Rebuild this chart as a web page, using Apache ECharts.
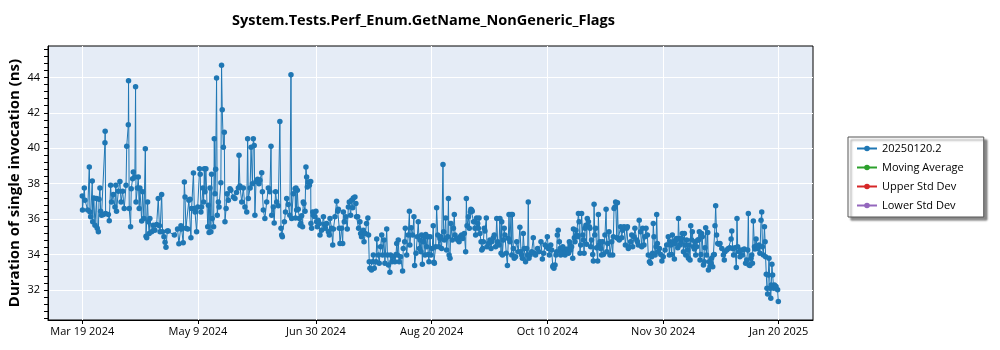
<!DOCTYPE html>
<html>
<head>
<meta charset="utf-8">
<script src="https://cdn.jsdelivr.net/npm/echarts@6/dist/echarts.min.js"></script>
<style>
html,body{margin:0;padding:0;background:#fff;}
#chart{width:1000px;height:350px;}
</style>
</head>
<body>
<div id="chart"></div>
<script>
// Days since 2024-03-19 00:00 UTC for each benchmark run
const runDay = [
0.0,0.1,0.9,1.2,2.4,3.1,3.4,3.7,4.4,4.6,
5.1,5.6,6.3,6.6,7.1,7.4,7.8,8.1,8.5,9.3,
10.0,10.1,10.3,11.5,11.9,12.5,12.9,13.7,14.4,14.8,
15.1,15.9,16.6,17.1,17.8,18.5,19.3,19.6,20.3,20.4,
20.7,21.3,21.6,22.2,22.5,23.2,23.5,23.7,24.3,24.7,
25.1,25.4,26.2,26.6,27.2,27.8,28.1,28.4,28.8,29.1,
29.5,29.8,30.6,31.3,32.0,32.8,33.5,34.0,34.3,35.0,
35.4,36.0,36.5,36.9,37.5,
37.9,40.6,42.0,42.6,43.5,43.8,44.5,45.0,45.3,45.7,
46.5,47.0,47.5,47.9,48.2,49.0,49.4,49.7,50.4,50.9,
51.7,52.0,52.3,52.6,53.2,53.5,53.8,54.1,54.5,55.3,
55.6,55.9,56.3,56.7,57.0,57.3,57.9,58.2,58.5,58.8,
59.2,59.5,60.0,60.3,61.1,61.4,61.7,62.2,62.6,62.9,
63.4,63.8,64.4,65.1,65.5,66.6,67.3,68.0,68.8,69.1,
69.5,70.3,71.0,71.7,72.5,72.9,73.2,74.0,74.4,75.0,
75.4,75.8,76.1,76.6,77.3,77.9,78.3,79.1,79.4,79.8,
80.5,81.3,82.0,82.7,83.2,83.5,84.2,84.6,85.2,85.7,
86.4,87.1,87.6,87.9,88.2,89.1,89.6,90.1,90.8,91.5,
92.0,92.3,93.0,93.8,
94.0,94.2,94.5,94.8,95.2,95.7,96.0,96.3,96.7,97.1,
97.4,97.7,98.2,98.6,98.9,99.2,99.6,100.1,100.7,100.8,
101.1,101.6,101.8,102.6,103.0,103.3,103.6,104.0,104.5,104.8,
105.5,106.3,106.7,107.0,107.7,108.5,108.9,109.2,109.9,110.4,
110.7,111.4,112.1,112.6,112.9,113.3,113.6,114.3,114.8,115.1,
115.5,116.2,116.8,117.3,117.7,118.3,118.7,119.2,119.5,120.2,
120.6,120.9,121.4,121.8,122.4,122.7,123.1,123.9,124.2,124.8,
125.3,125.9,126.2,126.5,126.8,127.5,128.0,128.3,128.7,129.5,
129.8,130.5,130.9,131.5,132.0,132.4,133.0,133.4,134.2,134.5,
135.0,135.6,135.9,136.5,137.1,137.8,138.3,138.6,138.9,139.3,
139.7,140.3,141.2,141.5,142.1,142.4,143.0,143.7,144.2,144.4,
145.0,145.6,146.2,146.5,147.1,147.7,148.1,148.6,
148.9,149.3,149.6,149.9,150.3,150.8,151.1,151.4,151.8,152.3,
152.5,152.8,153.3,153.7,154.3,154.7,155.0,155.2,155.8,156.2,
156.7,157.2,157.7,158.1,158.4,159.0,159.3,159.6,160.2,160.6,
161.1,161.4,161.7,162.1,162.5,163.1,163.6,164.0,164.3,165.0,
165.5,166.1,166.5,167.2,167.7,168.4,169.0,169.3,169.6,170.2,
170.6,171.1,171.3,171.6,171.9,172.5,173.1,173.4,173.8,174.3,
174.6,174.9,175.3,175.8,176.1,176.5,176.8,177.2,177.5,178.1,
178.4,179.0,179.7,180.2,180.5,181.2,181.6,182.2,182.7,183.1,
183.7,184.1,184.6,184.9,185.2,185.6,186.0,186.3,186.9,187.4,
187.8,188.1,188.5,189.0,189.3,189.6,190.0,190.4,191.0,191.5,
192.2,192.9,193.4,193.7,194.0,194.4,194.8,195.4,195.9,196.3,
196.6,196.9,197.4,198.1,198.8,199.3,199.8,200.7,201.3,202.2,
202.8,203.4,204.0,
204.7,205.0,205.4,205.9,206.5,206.9,207.4,207.6,207.9,208.4,
208.8,209.1,209.4,209.8,210.3,210.6,210.9,211.3,211.8,212.1,
212.8,213.2,213.8,214.3,214.7,215.0,215.3,215.7,216.2,216.5,
216.9,217.2,217.6,217.9,218.4,218.7,219.0,219.4,219.7,220.1,
220.6,220.9,221.2,221.6,222.0,222.3,222.6,223.1,223.5,223.8,
224.1,224.5,225.0,225.3,225.6,225.9,226.3,226.7,227.2,227.5,
227.9,228.2,228.5,228.9,229.4,229.7,230.4,230.9,231.2,231.6,
232.2,232.6,233.4,233.8,234.1,234.4,234.8,235.1,235.6,235.9,
236.3,236.7,237.3,237.8,238.2,238.8,239.4,240.0,240.3,240.7,
241.1,241.7,242.2,242.6,243.2,243.6,244.4,244.7,245.1,245.5,
246.1,246.6,247.0,247.6,248.0,248.5,249.1,249.5,250.0,250.5,
251.0,251.4,251.7,252.0,252.5,252.9,253.2,253.5,253.9,254.4,
255.0,255.5,256.1,256.9,257.6,258.3,258.8,259.1,
259.5,259.8,260.1,260.6,261.0,261.3,261.6,262.0,262.5,262.8,
263.1,263.5,263.9,264.2,264.5,265.0,265.4,265.7,266.0,266.4,
266.9,267.2,267.5,267.9,268.2,268.6,268.9,269.4,269.8,270.1,
270.4,270.8,271.3,271.6,272.0,272.3,272.7,273.0,273.3,273.8,
274.2,274.5,274.8,275.2,275.7,276.0,276.4,276.7,277.2,277.4,
277.9,278.2,278.6,278.9,279.2,279.6,280.1,280.7,281.1,281.9,
282.6,283.0,283.3,284.1,284.8,285.5,286.0,286.3,286.7,287.1,
287.7,288.3,288.6,288.9,289.5,289.9,290.4,291.0,291.8,292.4,
292.9,293.3,293.6,293.9,294.3,294.8,295.1,295.4,295.8,296.3,
296.5,297.0,297.4,297.7,298.3,298.7,299.2,299.5,299.8,300.2,
300.7,301.0,301.2,301.5,301.8,302.1,302.4,302.7,303.2,303.5,
303.7,304.0,304.3,304.8,305.1,305.8,306.5,306.8
];

// Duration of single invocation (ns), series "20250120.2"
const duration = [
37.31,36.51,37.76,37.07,36.51,38.94,36.41,36.13,38.15,35.85,
37.20,35.66,37.16,35.48,35.29,37.12,37.76,36.45,36.22,36.26,
40.31,40.96,36.32,36.26,35.91,37.91,36.97,37.39,36.69,37.91,
36.45,37.57,38.13,36.97,37.57,36.60,37.91,40.12,41.32,43.81,
36.60,35.57,37.72,38.28,38.66,38.38,43.47,36.97,37.76,38.38,
36.60,37.76,35.89,37.54,36.04,39.97,35.04,34.95,36.97,35.85,
35.19,36.04,35.29,35.66,35.38,35.70,37.16,35.63,35.29,37.39,
35.29,35.01,34.69,34.41,35.33,
35.33,35.10,35.44,34.61,35.63,35.44,34.67,38.10,37.25,35.48,
35.44,37.07,37.12,34.95,36.60,38.60,36.60,36.41,35.29,36.69,
38.85,38.53,36.41,36.69,37.76,36.97,38.85,37.54,38.85,35.57,
36.79,35.25,37.76,35.29,38.53,36.04,35.57,40.53,37.44,38.81,
43.96,36.22,36.97,36.69,38.06,44.69,42.18,40.06,40.91,35.85,
36.60,37.44,37.07,37.72,37.63,37.25,37.16,37.50,37.76,39.60,
37.87,36.97,37.76,36.69,36.41,40.53,37.16,37.76,40.06,38.00,
40.53,40.16,36.22,38.13,38.25,38.00,38.19,38.62,37.54,36.51,
36.04,36.97,37.76,37.54,40.12,36.22,36.69,35.79,37.54,36.97,
36.75,41.51,35.48,35.10,35.01,35.85,36.41,37.16,36.82,36.22,
44.15,36.04,37.44,37.72,
36.07,37.76,36.51,37.63,36.56,36.04,35.66,35.76,36.19,35.57,
36.97,36.88,36.45,38.94,38.38,37.82,38.10,37.91,38.13,35.76,
35.48,36.41,36.22,36.13,36.45,35.85,35.57,35.94,35.76,35.10,
35.38,36.13,35.70,35.48,35.76,35.29,35.10,36.04,35.48,34.54,
35.44,36.13,37.01,36.45,36.56,35.48,34.63,35.48,34.63,36.41,
35.85,36.13,35.44,36.69,36.97,36.22,37.07,36.64,37.20,37.25,
36.88,36.13,36.13,35.48,35.85,35.19,35.01,35.38,34.73,35.19,
35.76,36.07,35.10,33.60,33.23,33.13,33.60,33.98,33.23,33.60,
34.88,33.98,33.51,34.45,35.10,33.98,34.82,33.51,35.44,33.98,
33.42,33.00,33.98,33.60,33.88,33.60,34.01,34.63,33.98,34.82,
33.60,33.88,33.08,34.35,34.73,35.48,33.98,35.10,36.45,34.54,
35.51,35.10,36.13,33.38,34.07,35.01,35.85,34.35,
34.82,34.16,35.10,33.45,34.73,35.01,33.98,35.14,34.45,35.01,
34.01,33.60,35.01,33.98,34.35,35.63,33.57,33.51,34.45,36.64,
35.10,34.45,34.91,35.01,34.35,39.09,35.29,34.82,36.07,34.26,
35.01,37.16,33.98,33.79,35.76,34.82,35.48,36.26,35.10,34.91,
34.82,34.73,35.01,35.10,34.91,35.19,34.16,37.16,35.63,36.13,
35.48,36.41,36.56,36.51,36.45,35.85,35.48,35.10,36.07,35.76,
35.48,36.07,35.19,34.73,34.26,34.35,34.73,35.48,35.33,36.07,
34.45,34.63,34.82,34.35,34.73,34.95,35.10,34.45,36.04,34.73,
34.54,36.04,34.07,35.85,33.98,34.82,35.48,35.10,34.07,33.38,
34.91,36.26,34.73,36.26,33.98,36.26,34.35,33.79,33.88,34.73,
34.16,35.55,34.16,33.98,33.79,35.19,34.35,33.60,34.35,33.98,
36.97,33.79,33.98,34.16,34.95,34.07,33.98,34.35,34.16,34.73,
33.75,34.07,34.54,
34.45,35.01,34.35,33.98,34.54,34.26,33.32,33.38,33.23,33.42,
33.98,34.16,35.10,35.38,34.73,34.35,33.98,34.16,34.45,34.35,
33.98,34.16,34.31,34.07,34.73,34.54,34.26,34.45,33.79,35.44,
34.95,34.73,35.38,35.10,35.01,36.32,35.85,34.07,34.54,36.32,
35.10,34.82,34.07,35.48,35.66,34.58,36.04,35.85,35.57,35.48,
34.45,34.82,34.01,33.64,36.84,35.10,35.48,34.39,33.64,36.26,
34.54,34.73,34.35,33.98,34.73,34.01,35.10,36.56,34.16,34.63,
35.29,33.98,34.73,33.98,35.01,36.60,36.69,36.97,34.95,36.92,
34.91,34.82,35.57,34.95,35.38,35.57,34.54,35.48,35.57,34.35,
34.45,34.73,35.10,34.45,35.01,35.48,34.82,34.73,34.54,35.94,
35.29,34.45,35.48,34.54,35.01,35.48,35.10,33.98,33.60,33.51,
33.88,34.07,35.76,35.01,33.98,34.45,36.26,34.63,34.16,34.35,
34.01,33.64,33.88,34.26,34.54,35.01,33.98,34.73,
34.54,34.01,35.10,34.73,33.75,34.63,34.82,34.91,34.39,36.04,
34.91,34.54,34.73,34.91,35.19,34.16,35.19,34.54,33.98,34.82,
34.26,33.79,34.54,33.70,35.63,34.82,35.29,34.45,34.31,34.73,
33.98,34.45,34.82,34.82,35.29,33.70,34.01,35.19,35.01,33.42,
33.60,34.39,35.51,33.98,35.25,33.13,33.60,33.32,33.51,33.79,
33.32,33.98,34.01,35.63,36.75,35.10,34.63,34.58,34.63,34.35,
33.98,33.70,34.16,34.26,34.35,34.39,34.88,35.33,34.35,33.98,
34.39,33.27,36.04,34.45,34.16,33.88,34.26,33.98,34.31,33.51,
33.70,34.26,36.32,33.42,33.38,33.79,33.98,33.51,35.89,34.45,
34.31,34.88,34.45,34.35,34.54,34.07,35.94,36.41,34.45,33.98,
35.57,34.73,33.88,32.89,32.10,31.77,32.85,33.79,32.10,31.54,
32.29,33.45,32.85,32.10,32.29,32.20,32.01,31.36
];

const seriesNames = ['20250120.2', 'Moving Average', 'Upper Std Dev', 'Lower Std Dev'];
const seriesColors = ['#1f77b4', '#2ca02c', '#d62728', '#9467bd'];
const xTickDates = ['2024-03-19', '2024-05-09', '2024-06-30', '2024-08-20', '2024-10-10', '2024-11-30', '2025-01-20'];
const yTickLabels = [32, 34, 36, 38, 40, 42, 44];
const titleText = 'System.Tests.Perf_Enum.GetName_NonGeneric_Flags';
const yAxisTitle = 'Duration of single invocation (ns)';

const DAY = 86400000;
const firstRun = Date.UTC(2024, 2, 19);
const parseDate = s => { const p = s.split('-').map(Number); return Date.UTC(p[0], p[1] - 1, p[2]); };
const xTicks = xTickDates.map(parseDate);
const MONTHS = ['Jan','Feb','Mar','Apr','May','Jun','Jul','Aug','Sep','Oct','Nov','Dec'];
const fmtDate = v => { const d = new Date(v); return MONTHS[d.getUTCMonth()] + ' ' + d.getUTCDate() + ' ' + d.getUTCFullYear(); };

const points = runDay.map((d, i) => [firstRun + d * DAY, duration[i]]);

const yMin = 30.31, yMax = 45.77;
const minorTicks = [];
for (let v = 30.4; v <= 45.6 + 1e-9; v += 0.4) minorTicks.push(Math.round(v * 10) / 10);

const FONT = '"Open Sans", "Noto Sans", sans-serif';

const chart = echarts.init(document.getElementById('chart'), null, { renderer: 'canvas' });
chart.setOption({
  animation: false,
  backgroundColor: '#ffffff',
  title: {
    text: titleText,
    left: 227, top: 8,
    textStyle: { fontFamily: FONT, fontSize: 14.5, fontWeight: 'bold', color: '#000' }
  },
  grid: {
    left: 48, right: 187, top: 46, bottom: 30,
    show: true, backgroundColor: '#E5ECF6', borderColor: '#000', borderWidth: 1,
    containLabel: false,
    outerBoundsMode: 'none'
  },
  legend: {
    orient: 'vertical',
    left: 848, top: 137,
    data: seriesNames,
    itemWidth: 20, itemHeight: 7, itemGap: 8,
    padding: [6, 20, 6, 8],
    backgroundColor: '#fff', borderColor: '#555', borderWidth: 1,
    shadowColor: 'rgba(0,0,0,0.45)', shadowBlur: 2, shadowOffsetX: 3, shadowOffsetY: 3,
    textStyle: { fontFamily: FONT, fontSize: 11, color: '#000' }
  },
  xAxis: {
    type: 'value',
    min: firstRun - 15.1 * DAY,
    max: parseDate('2025-01-20') + 15.1 * DAY,
    axisLine: { show: true, lineStyle: { color: '#000', width: 1 } },
    axisTick: { show: true, customValues: xTicks, length: 4, inside: false, lineStyle: { color: '#000' } },
    axisLabel: { customValues: xTicks, formatter: v => fmtDate(v), fontFamily: FONT, fontSize: 11, color: '#000', margin: 6 },
    splitLine: { show: true, lineStyle: { color: '#fff', width: 1 } }
  },
  yAxis: [{
    type: 'value',
    min: yMin, max: yMax,
    name: yAxisTitle, nameLocation: 'middle', nameGap: 26, nameMoveOverlap: false,
    nameTextStyle: { fontFamily: FONT, fontSize: 15, fontWeight: 'bold', color: '#000' },
    axisLine: { show: true, lineStyle: { color: '#000' } },
    axisTick: { show: false, customValues: yTickLabels },
    axisLabel: { customValues: yTickLabels, fontFamily: FONT, fontSize: 11, color: '#000', margin: 8 },
    splitLine: { show: true, lineStyle: { color: '#fff', width: 1 } }
  }, {
    type: 'value',
    min: yMin, max: yMax,
    position: 'left',
    axisLine: { show: false },
    axisTick: { show: true, customValues: minorTicks, length: 4, lineStyle: { color: '#000' } },
    axisLabel: { show: false },
    splitLine: { show: false }
  }],
  series: [{
    name: seriesNames[0], type: 'line', data: points,
    color: seriesColors[0],
    symbol: 'circle', symbolSize: 5.5, showSymbol: true, showAllSymbol: true,
    lineStyle: { width: 1, color: seriesColors[0] },
    itemStyle: { color: seriesColors[0] }
  }].concat(seriesNames.slice(1).map((n, i) => ({
    name: n, type: 'line', data: [],
    color: seriesColors[i + 1],
    symbol: 'circle', symbolSize: 5.5,
    lineStyle: { width: 1, color: seriesColors[i + 1] },
    itemStyle: { color: seriesColors[i + 1] }
  })))
});
</script>
</body>
</html>
